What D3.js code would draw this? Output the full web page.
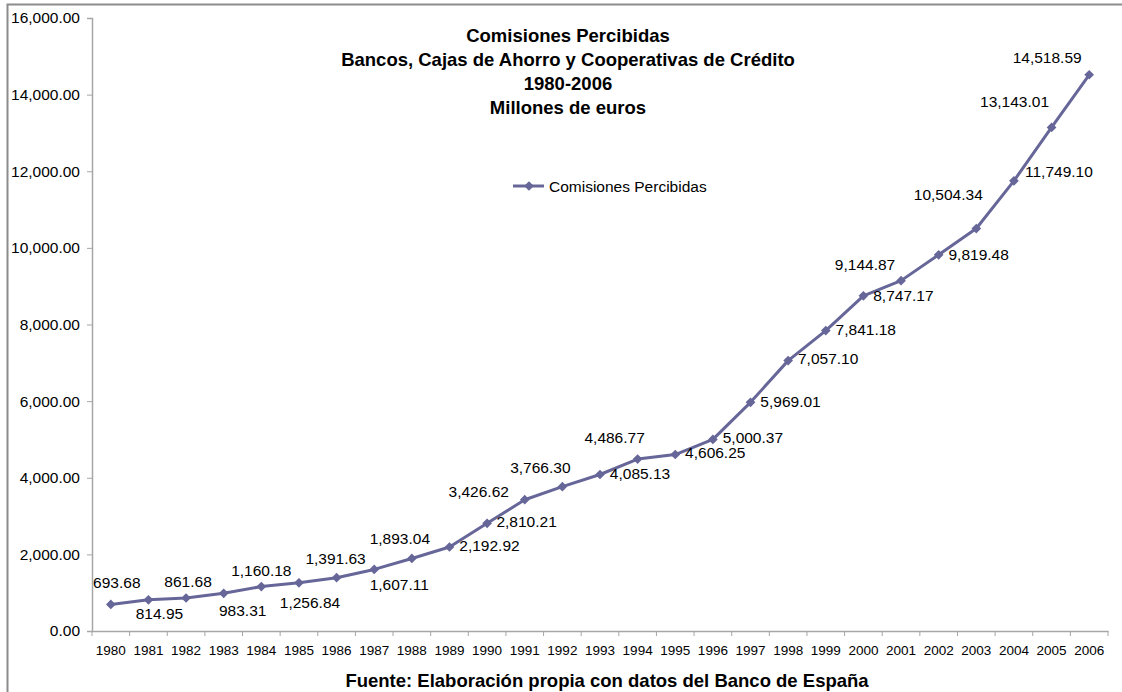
<!DOCTYPE html>
<html>
<head>
<meta charset="utf-8">
<script src="https://cdn.jsdelivr.net/npm/d3@7"></script>
<style>
  html, body { margin: 0; padding: 0; background: #fff; }
  svg { display: block; font-family: "Liberation Sans", Arial, sans-serif; }
</style>
</head>
<body>
<svg id="chart" width="1122" height="692"></svg>
<script>
// Comisiones percibidas, millones de euros
const years = [1980, 1981, 1982, 1983, 1984, 1985, 1986, 1987, 1988, 1989,
               1990, 1991, 1992, 1993, 1994, 1995, 1996, 1997, 1998, 1999,
               2000, 2001, 2002, 2003, 2004, 2005, 2006];
const comisiones = [693.68, 814.95, 861.68, 983.31, 1160.18, 1256.84, 1391.63,
                    1607.11, 1893.04, 2192.92, 2810.21, 3426.62, 3766.30, 4085.13,
                    4486.77, 4606.25, 5000.37, 5969.01, 7057.10, 7841.18, 8747.17,
                    9144.87, 9819.48, 10504.34, 11749.10, 13143.01, 14518.59];
const yTicks = [0, 2000, 4000, 6000, 8000, 10000, 12000, 14000, 16000];
const titleLines = ["Comisiones Percibidas",
                    "Bancos, Cajas de Ahorro y Cooperativas de Crédito",
                    "1980-2006",
                    "Millones de euros"];
const seriesName = "Comisiones Percibidas";
const sourceNote = "Fuente: Elaboración propia con datos del Banco de España";

// Data-label placement relative to each point: [dx of label centre, dy of baseline]
const labelOffsets = [
  [6, -16], [11, 19.5], [2, -11.3], [19, 22.7], [0, -10.6], [11, 25.5], [-1, -13.7],
  [25, 20.6], [-12, -14.5], [40, 4], [39.5, 4], [-46, -3], [-22, -14], [40, 4.5],
  [-23, -15.8], [40, 3.8], [40, 3.9], [40, 4.4], [40, 3.7], [40, 4.4], [40, 4.8],
  [-36, -10.7], [40, 5.2], [-28, -28.6], [45, -4.2], [-37, -20.8], [-42, -11.5]
];

const color = "#666699";
const svg = d3.select("#chart");

// Outer chart frame
svg.append("rect")
  .attr("x", 7.5).attr("y", 4.5)
  .attr("width", 1130).attr("height", 700)
  .attr("fill", "none").attr("stroke", "#8c8c8c").attr("stroke-width", 2);

const plot = { left: 92, right: 1108, top: 18, bottom: 631 };

const x = d3.scaleBand().domain(years).range([plot.left, plot.right]).padding(0);
const y = d3.scaleLinear().domain([0, 16000]).range([plot.bottom, plot.top]);
const cx = d => x(d) + x.bandwidth() / 2;

// Y axis
const yAxis = svg.append("g")
  .attr("transform", `translate(${plot.left},0)`)
  .call(d3.axisLeft(y).tickValues(yTicks).tickFormat(d3.format(",.2f")).tickSize(5).tickPadding(7));
yAxis.select(".domain").attr("stroke", "#a6a6a6").attr("stroke-width", 1.5);
yAxis.selectAll(".tick line").attr("stroke", "#a6a6a6");
yAxis.selectAll(".tick text")
  .attr("fill", "#000").style("font-size", "15.5px").style("font-family", "Liberation Sans, Arial, sans-serif");

// X axis: labels centred on categories, tick marks between categories
const xAxis = svg.append("g")
  .attr("transform", `translate(0,${plot.bottom})`)
  .call(d3.axisBottom(x).tickSize(0).tickPadding(14));
xAxis.select(".domain").attr("stroke", "#a6a6a6").attr("stroke-width", 1.5);
xAxis.selectAll(".tick text")
  .attr("fill", "#000").style("font-size", "13.5px").style("font-family", "Liberation Sans, Arial, sans-serif");
xAxis.selectAll("line.sep")
  .data(years.map(d => x(d)).concat([x.range()[1]]))
  .join("line").attr("class", "sep")
  .attr("x1", d => d).attr("x2", d => d)
  .attr("y1", 0).attr("y2", 5)
  .attr("stroke", "#a6a6a6");

// Series line
const line = d3.line().x((d, i) => cx(years[i])).y(d => y(d));
svg.append("path")
  .datum(comisiones)
  .attr("d", line)
  .attr("fill", "none")
  .attr("stroke", color)
  .attr("stroke-width", 3)
  .attr("stroke-linejoin", "round");

// Diamond markers
const diamond = d3.symbol().type(d3.symbolDiamond2).size(60);
svg.append("g").selectAll("path")
  .data(comisiones)
  .join("path")
  .attr("d", diamond)
  .attr("transform", (d, i) => `translate(${cx(years[i])},${y(d)})`)
  .attr("fill", color);

// Data labels
const fmt = d3.format(",.2f");
svg.append("g").selectAll("text")
  .data(comisiones)
  .join("text")
  .attr("x", (d, i) => cx(years[i]) + labelOffsets[i][0])
  .attr("y", (d, i) => y(d) + labelOffsets[i][1])
  .attr("text-anchor", "middle")
  .style("font-size", "15.5px")
  .attr("fill", "#000")
  .text(d => fmt(d));

// Title
svg.append("g").selectAll("text")
  .data(titleLines)
  .join("text")
  .attr("x", 568)
  .attr("y", (d, i) => 42 + i * 24)
  .attr("text-anchor", "middle")
  .style("font-size", "18.5px")
  .style("font-weight", "bold")
  .text(d => d);

// Legend
const lg = svg.append("g").attr("transform", "translate(513,186)");
lg.append("line").attr("x1", 0).attr("x2", 31).attr("y1", 0).attr("y2", 0)
  .attr("stroke", color).attr("stroke-width", 3);
lg.append("path").attr("d", diamond).attr("transform", "translate(16,0)").attr("fill", color);
lg.append("text").attr("x", 36).attr("y", 5.5)
  .style("font-size", "15.5px").text(seriesName);

// Source note
svg.append("text")
  .attr("x", 607).attr("y", 687)
  .attr("text-anchor", "middle")
  .style("font-size", "18.5px")
  .style("font-weight", "bold")
  .text(sourceNote);
</script>
</body>
</html>
